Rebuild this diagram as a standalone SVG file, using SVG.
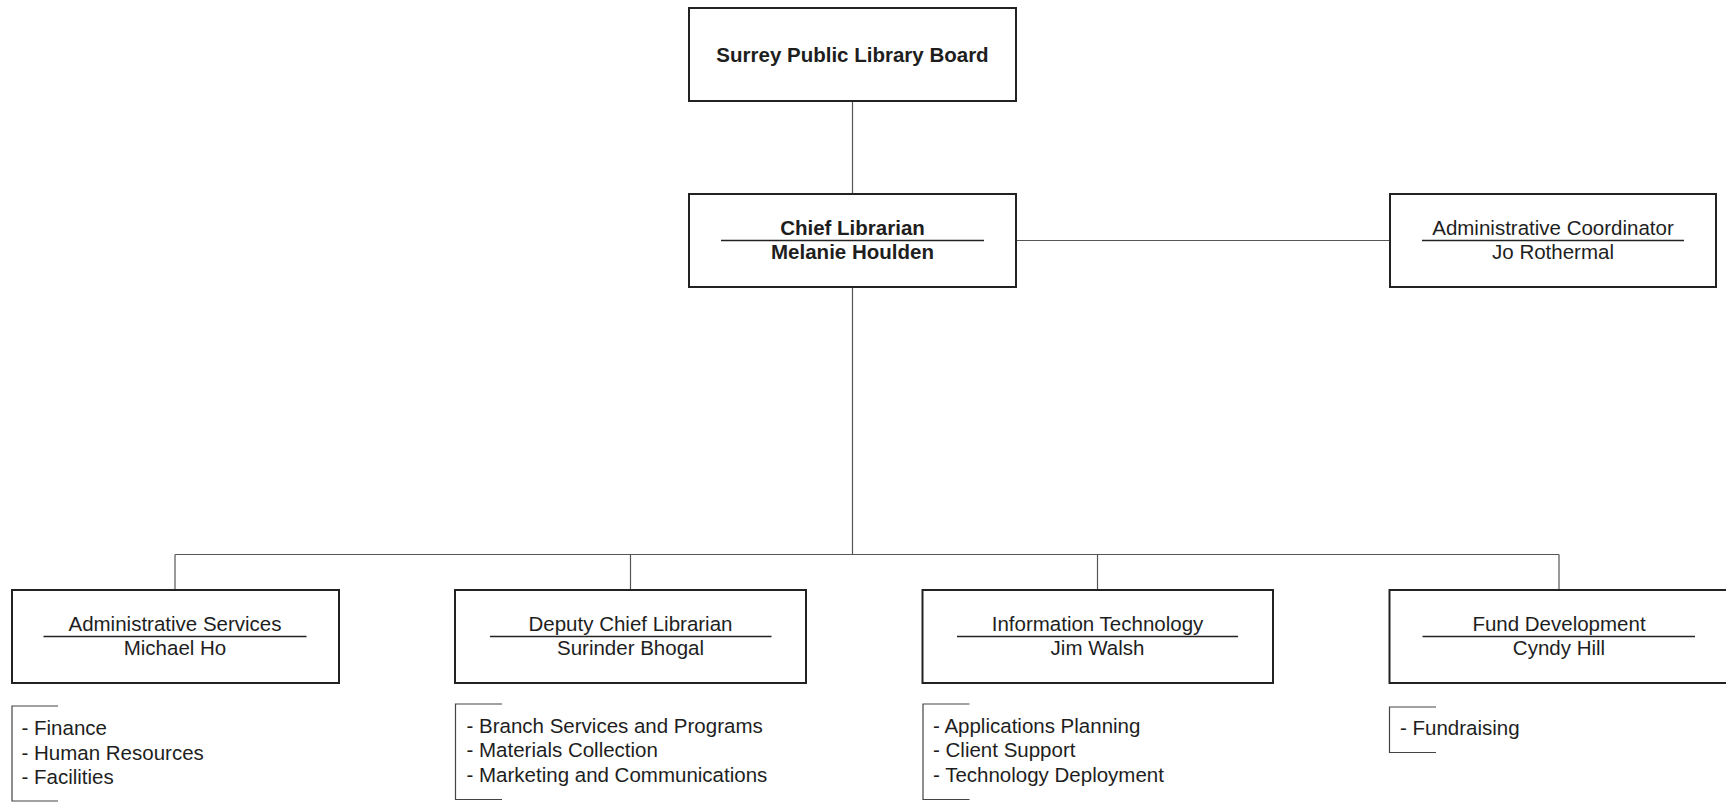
<svg xmlns="http://www.w3.org/2000/svg" width="1726" height="803" viewBox="0 0 1726 803">
  <style>
    .box { fill: #ffffff; stroke: #222222; stroke-width: 2; }
    .link { fill: none; stroke: #555555; stroke-width: 1.2; }
    .rule { stroke: #222222; stroke-width: 1.6; }
    .bracket { fill: none; stroke: #444444; stroke-width: 1.2; }
    text { font-family: "Liberation Sans", Arial, sans-serif; font-size: 20.5px; fill: #1e1e1e; }
    .title { text-anchor: middle; }
    .bold { font-weight: bold; }
  </style>
  <rect x="0" y="0" width="1726" height="803" fill="#ffffff"/>

  <!-- connectors -->
  <g id="connectors">
    <line class="link" x1="852.5" y1="101" x2="852.5" y2="194"/>
    <line class="link" x1="1016" y1="240.5" x2="1390" y2="240.5"/>
    <line class="link" x1="852.5" y1="287" x2="852.5" y2="554.5"/>
    <line class="link" x1="175" y1="554.5" x2="1559" y2="554.5"/>
    <line class="link" x1="175" y1="554.5" x2="175" y2="590"/>
    <line class="link" x1="630.5" y1="554.5" x2="630.5" y2="590"/>
    <line class="link" x1="1097.5" y1="554.5" x2="1097.5" y2="590"/>
    <line class="link" x1="1559" y1="554.5" x2="1559" y2="590"/>
  </g>

  <!-- board -->
  <g id="board">
    <rect class="box" x="689" y="8" width="327" height="93"/>
    <text class="title bold" x="852.5" y="61.5">Surrey Public Library Board</text>
  </g>

  <!-- chief librarian -->
  <g id="chief-librarian">
    <rect class="box" x="689" y="194" width="327" height="93"/>
    <text class="title bold" x="852.5" y="235">Chief Librarian</text>
    <line class="rule" x1="721" y1="240.5" x2="984" y2="240.5"/>
    <text class="title bold" x="852.5" y="259">Melanie Houlden</text>
  </g>

  <!-- administrative coordinator -->
  <g id="admin-coordinator">
    <rect class="box" x="1390" y="194" width="326" height="93"/>
    <text class="title" x="1553" y="235">Administrative Coordinator</text>
    <line class="rule" x1="1422" y1="240.5" x2="1684" y2="240.5"/>
    <text class="title" x="1553" y="259">Jo Rothermal</text>
  </g>

  <!-- administrative services -->
  <g id="admin-services">
    <rect class="box" x="12" y="590" width="327" height="93"/>
    <text class="title" x="175" y="630.5">Administrative Services</text>
    <line class="rule" x1="43.5" y1="636.5" x2="306.5" y2="636.5"/>
    <text class="title" x="175" y="654.5">Michael Ho</text>
    <path class="bracket" d="M58,706 H12 V801 H58"/>
    <text x="21.5" y="734.5">- Finance</text>
    <text x="21.5" y="759.5">- Human Resources</text>
    <text x="21.5" y="784">- Facilities</text>
  </g>

  <!-- deputy chief librarian -->
  <g id="deputy-chief">
    <rect class="box" x="455" y="590" width="351" height="93"/>
    <text class="title" x="630.5" y="630.5">Deputy Chief Librarian</text>
    <line class="rule" x1="490" y1="636.5" x2="771.5" y2="636.5"/>
    <text class="title" x="630.5" y="654.5">Surinder Bhogal</text>
    <path class="bracket" d="M502,704 H455.5 V799.5 H502"/>
    <text x="466.5" y="732.5">- Branch Services and Programs</text>
    <text x="466.5" y="757">- Materials Collection</text>
    <text x="466.5" y="781.5">- Marketing and Communications</text>
  </g>

  <!-- information technology -->
  <g id="info-tech">
    <rect class="box" x="922.5" y="590" width="350.5" height="93"/>
    <text class="title" x="1097.5" y="630.5">Information Technology</text>
    <line class="rule" x1="957" y1="636.5" x2="1238" y2="636.5"/>
    <text class="title" x="1097.5" y="654.5">Jim Walsh</text>
    <path class="bracket" d="M969.5,704 H923 V799.5 H969.5"/>
    <text x="933" y="732.5">- Applications Planning</text>
    <text x="933" y="757">- Client Support</text>
    <text x="933" y="781.5">- Technology Deployment</text>
  </g>

  <!-- fund development -->
  <g id="fund-development">
    <rect class="box" x="1389.5" y="590" width="340" height="93"/>
    <text class="title" x="1559" y="630.5">Fund Development</text>
    <line class="rule" x1="1422.5" y1="636.5" x2="1695" y2="636.5"/>
    <text class="title" x="1559" y="654.5">Cyndy Hill</text>
    <path class="bracket" d="M1436,707 H1389.5 V752.5 H1436"/>
    <text x="1400" y="735">- Fundraising</text>
  </g>
</svg>
